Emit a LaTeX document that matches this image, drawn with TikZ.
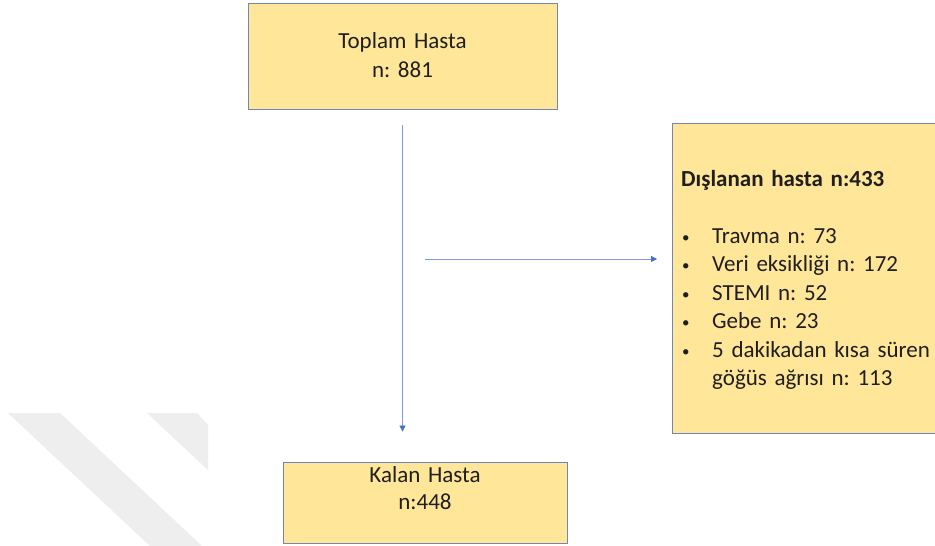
\documentclass[tikz,border=0pt]{standalone}
\usepackage{fontspec}
\setmainfont{Carlito}
\usetikzlibrary{arrows.meta}
\definecolor{boxfill}{RGB}{255,230,153}
\definecolor{boxdraw}{RGB}{110,135,180}
\definecolor{arrowblue}{RGB}{68,114,196}
\definecolor{linelight}{RGB}{125,155,218}
\definecolor{wm}{RGB}{238,238,238}
\frenchspacing
\newcommand{\bul}{\makebox[31pt][l]{\hspace{1pt}\raisebox{1pt}{\scalebox{0.65}{•}}}}
\begin{document}
\begin{tikzpicture}[x=1pt,y=-1pt,
 box/.style={draw=boxdraw, fill=boxfill, line width=0.9pt, inner sep=0pt},
 txt/.style={font=\fontsize{23}{29}\selectfont, inner sep=0pt, text=black!88},
 arr/.style={draw=linelight, line width=0.8pt, -{Triangle[length=6pt,width=6pt,color=arrowblue]}}]
\useasboundingbox[fill=white] (0,0) rectangle (935,546);
% watermark stripes
\fill[wm] (8,413) -- (60,413) -- (202,546) -- (150,546) -- cycle;
\fill[wm] (147,413) -- (197,413) -- (208,425) -- (208,470) -- cycle;
% boxes
\node[box, minimum width=309pt, minimum height=106pt] (total) at (402.5,56) {};
\node[txt, anchor=base, text width=300pt, align=center] (totaltxt) at (402.5,48) {Toplam Hasta\\n: 881};
\node[box, minimum width=284pt, minimum height=81pt] (kalan) at (425,502.5) {};
\node[txt, anchor=base, text width=280pt, align=center, font=\fontsize{23}{27}\selectfont] (kalantxt) at (425,482) {Kalan Hasta\\n:448};
\node[box, minimum width=265pt, minimum height=310pt, anchor=north west] (excl) at (672,123) {};
\node[txt, anchor=base west, text width=252pt, align=left, font=\fontsize{23}{28.5}\selectfont] (excltxt) at (681,186.5) {%
{\bfseries Dışlanan hasta n:433}\\[28pt]
\bul Travma n: 73\\
\bul Veri eksikliği n: 172\\
\bul STEMI n: 52\\
\bul Gebe n: 23\\
\bul 5 dakikadan kısa süren\\
\hspace*{31pt}göğüs ağrısı n: 113};
% connectors
\coordinate (split) at (425,259);
\draw[arr, shorten <=16pt, shorten >=30pt] (total.south) -- (total.south |- kalan.north);
\draw[arr, shorten >=15pt] (split) -- (split -| excl.west);
\end{tikzpicture}
\end{document}
